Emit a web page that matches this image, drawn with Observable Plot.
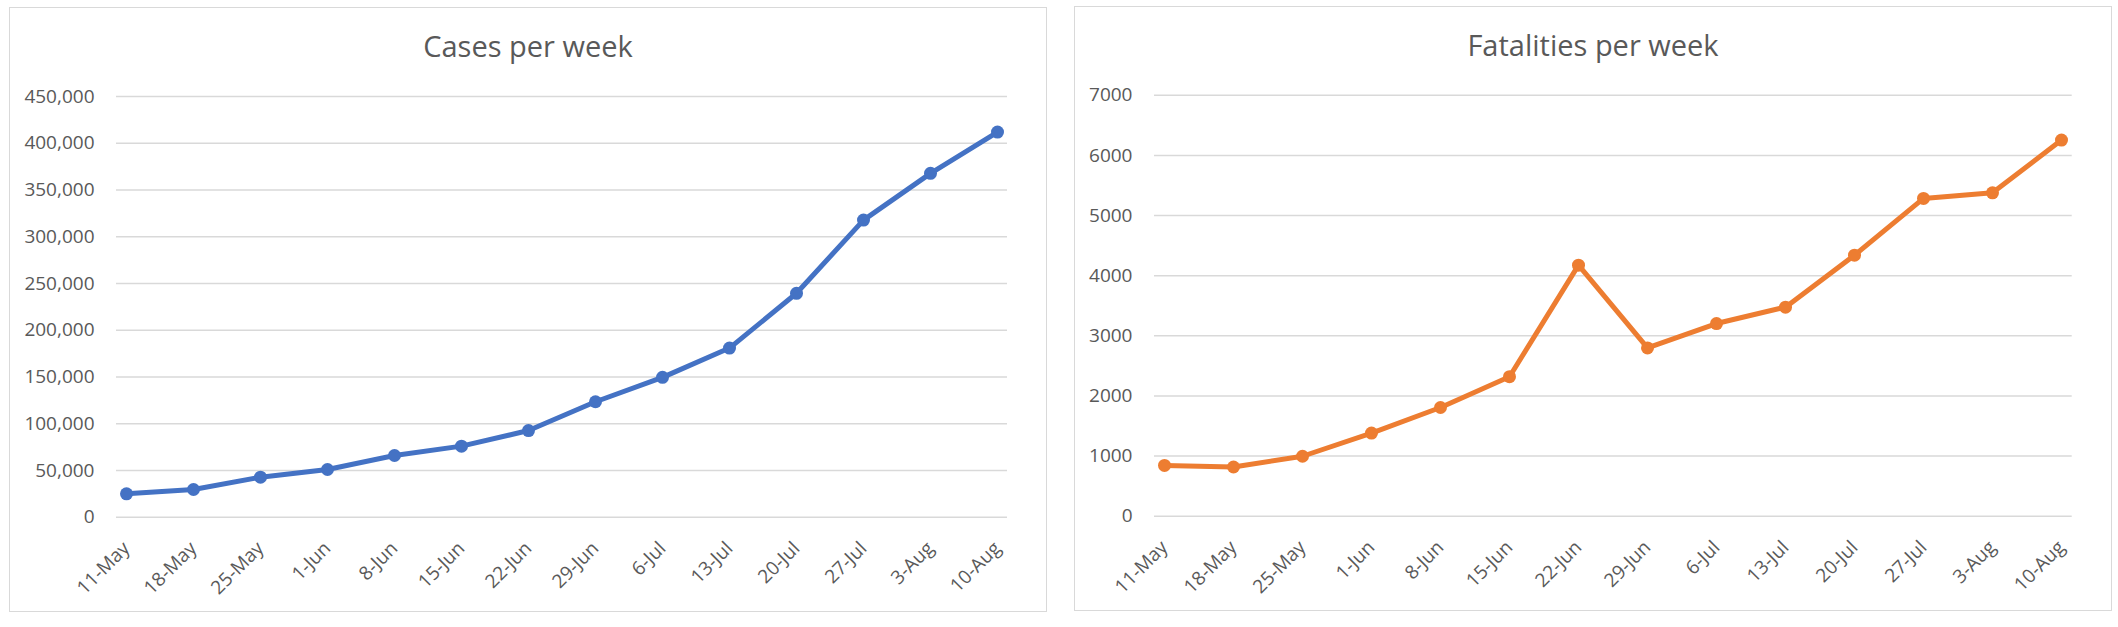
<!DOCTYPE html>
<html>
<head>
<meta charset="utf-8">
<script src="https://cdn.jsdelivr.net/npm/d3@7"></script>
<script src="https://cdn.jsdelivr.net/npm/@observablehq/plot@0.6"></script>
<style>
  html, body { margin: 0; padding: 0; background: #ffffff; }
  #page { position: relative; width: 2118px; height: 627px; overflow: hidden; background: #fff; font-family: "Open Sans", sans-serif; }
  .panel { position: absolute; box-sizing: border-box; border: 1.5px solid #d9d9d9; background: #fff; }
  .title { position: absolute; text-align: center; font-size: 29px; line-height: 29px; color: #595959; white-space: nowrap; }
  .chart { position: absolute; }
</style>
</head>
<body>
<div id="page"></div>
<script>
// ---- data ----
const weeks = ["11-May","18-May","25-May","1-Jun","8-Jun","15-Jun","22-Jun","29-Jun","6-Jul","13-Jul","20-Jul","27-Jul","3-Aug","10-Aug"];
const cases = [25000, 29600, 42800, 51000, 66000, 76000, 92700, 123500, 149600, 180900, 239500, 317800, 367800, 411900];
const fatalities = [844, 818, 997, 1383, 1808, 2320, 4175, 2799, 3204, 3477, 4341, 5285, 5378, 6256];
const casesTicks = [0, 50000, 100000, 150000, 200000, 250000, 300000, 350000, 400000, 450000];
const fatalityTicks = [0, 1000, 2000, 3000, 4000, 5000, 6000, 7000];
const titles = ["Cases per week", "Fatalities per week"];
const colors = ["#4472C4", "#ED7D31"];

const page = document.getElementById("page");

function makePanel(cfg) {
  const box = document.createElement("div");
  box.className = "panel";
  Object.assign(box.style, {left: cfg.left + "px", top: cfg.top + "px", width: cfg.width + "px", height: cfg.height + "px"});
  page.appendChild(box);

  const t = document.createElement("div");
  t.className = "title";
  t.textContent = cfg.title;
  Object.assign(t.style, {left: cfg.left + "px", width: cfg.width + "px", top: cfg.titleTop + "px"});
  page.appendChild(t);

  const data = weeks.map((w, i) => ({week: w, value: cfg.values[i]}));
  const svg = Plot.plot({
    width: cfg.width,
    height: cfg.height,
    marginLeft: cfg.mL,
    marginRight: cfg.mR,
    marginTop: cfg.mT,
    marginBottom: cfg.mB,
    style: {fontFamily: "'Open Sans', sans-serif", fontSize: "19px", color: "#595959", background: "transparent", overflow: "visible"},
    x: {type: "point", domain: weeks, padding: 0, insetLeft: cfg.inset, insetRight: cfg.inset, label: null, tickSize: 0, tickRotate: -45, tickPadding: 28},
    y: {domain: [0, cfg.ticks[cfg.ticks.length - 1]], ticks: cfg.ticks, tickFormat: cfg.fmt, label: null, tickSize: 0, tickPadding: 22},
    marks: [
      Plot.ruleY(cfg.ticks, {stroke: "#d9d9d9", strokeWidth: 1.5}),
      Plot.line(data, {x: "week", y: "value", stroke: cfg.color, strokeWidth: 5, strokeLinejoin: "round", strokeLinecap: "round"}),
      Plot.dot(data, {x: "week", y: "value", r: 6.5, fill: cfg.color, stroke: "none"})
    ]
  });
  const wrap = document.createElement("div");
  wrap.className = "chart";
  Object.assign(wrap.style, {left: cfg.left + "px", top: cfg.top + "px"});
  wrap.appendChild(svg);
  page.appendChild(wrap);
}

makePanel({
  left: 9, top: 7, width: 1038, height: 605, titleTop: 31,
  title: titles[0], values: cases, ticks: casesTicks, color: colors[0],
  fmt: d3.format(","), mL: 107, mR: 40, mT: 89, mB: 95.3, inset: 4.5
});
makePanel({
  left: 1074, top: 6, width: 1038, height: 605, titleTop: 30,
  title: titles[1], values: fatalities, ticks: fatalityTicks, color: colors[1],
  fmt: d3.format("d"), mL: 80, mR: 40.3, mT: 88.8, mB: 95.3, inset: 4.3
});
</script>
</body>
</html>
